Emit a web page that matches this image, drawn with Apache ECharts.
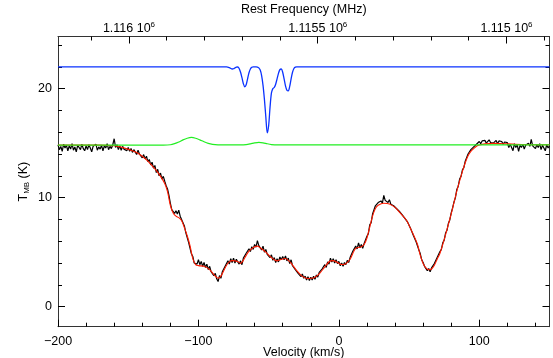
<!DOCTYPE html>
<html>
<head>
<meta charset="utf-8">
<script src="https://cdn.jsdelivr.net/npm/echarts@6/dist/echarts.min.js"></script>
<style>
  html, body { margin: 0; padding: 0; background: #fff; }
  #chart { width: 553px; height: 358px; }
</style>
</head>
<body>
<div id="chart"></div>
<script>
// observed spectrum, channels every 1 km/s starting at -200
const obsStart = -200
const obsStep = 1
const obsT = [
  14.85, 14.4, 14.7, 14.25, 14.9, 14.55, 14.8, 14.3, 14.75, 14.45,
  14.95, 14.35, 14.65, 14.2, 14.8, 14.7, 14.4, 14.9, 14.5, 14.3,
  14.75, 14.4, 14.85, 14.55, 14.2, 14.7, 14.6, 14.9, 14.35, 14.65,
  14.45, 14.8, 14.3, 14.75, 14.55, 14.95, 14.4, 14.7, 14.5, 14.85,
  15.4, 14.6, 14.85, 14.4, 14.75, 14.35, 14.7, 14.45, 14.6, 14.3,
  14.6, 14.25, 14.5, 14.15, 14.4, 14.3, 13.95, 14.35, 14.0, 14.15,
  13.65, 13.95, 13.55, 13.8, 13.3, 13.5, 13.0, 13.25, 12.7, 12.95,
  12.3, 12.6, 12.0, 12.25, 11.7, 11.95, 11.5, 11.1, 10.8, 10.2,
  9.5, 8.9, 9.0, 8.55, 8.8, 8.5, 8.85, 8.3, 8.2, 7.7,
  7.4, 6.8, 6.65, 5.9, 5.75, 4.85, 4.6, 4.0, 4.15, 3.9,
  4.3, 3.85, 4.15, 3.7, 4.05, 3.6, 3.9, 3.4, 3.7, 3.2,
  3.3, 2.85, 3.05, 2.55, 2.3, 2.85, 2.6, 3.2, 3.1, 3.7,
  3.95, 4.2, 3.9, 4.4, 4.05, 4.45, 4.0, 4.35, 4.1, 3.9,
  4.2, 3.85, 4.45, 4.3, 4.9, 4.75, 5.3, 5.05, 5.5, 5.25,
  5.7, 5.45, 6.05, 5.6, 5.75, 5.2, 5.55, 5.0, 5.25, 4.8,
  4.95, 4.5, 4.75, 4.25, 4.5, 4.05, 4.4, 4.1, 4.55, 4.3,
  4.6, 4.3, 4.65, 4.2, 4.45, 3.95, 4.3, 3.75, 3.9, 3.4,
  3.5, 3.05, 3.2, 2.75, 3.0, 2.6, 2.8, 2.45, 2.75, 2.4,
  2.7, 2.45, 2.8, 2.5, 2.9, 2.7, 3.15, 3.0, 3.45, 3.3,
  3.85, 3.6, 4.1, 3.9, 4.45, 4.1, 4.4, 4.0, 4.3, 3.95,
  4.15, 3.75, 4.0, 3.7, 4.05, 3.85, 4.25, 4.05, 4.5, 4.45,
  5.1, 4.95, 5.55, 5.3, 5.85, 5.4, 5.7, 5.35, 5.8, 5.9,
  6.45, 6.7, 7.5, 7.7, 8.5, 8.6, 9.25, 9.1, 9.55, 9.4,
  9.7, 9.5, 10.2, 9.75, 9.85, 9.55, 9.8, 9.4, 9.55, 9.25,
  9.35, 9.0, 9.1, 8.75, 8.85, 8.45, 8.5, 8.1, 8.2, 7.75,
  7.6, 7.2, 7.05, 6.55, 6.45, 5.95, 5.85, 5.2, 4.85, 4.3,
  4.05, 3.7, 3.65, 3.3, 3.5, 3.2, 3.55, 3.5, 3.95, 4.0,
  4.5, 4.6, 5.05, 5.25, 5.85, 6.1, 6.75, 7.0, 7.65, 7.95,
  8.6, 9.05, 9.6, 10.0, 10.75, 11.05, 11.7, 11.95, 12.55, 12.75,
  13.35, 13.5, 14.0, 14.05, 14.4, 14.35, 14.65, 14.6, 14.9, 14.85,
  15.15, 14.95, 15.2, 15.05, 15.25, 15.0, 15.15, 15.3, 15.05, 15.2,
  15.0, 15.15, 15.25, 14.95, 15.2, 15.05, 15.15, 14.9, 15.1, 14.95,
  15.05, 14.6, 14.9, 14.75, 14.3, 14.95, 14.6, 14.85, 14.25, 14.8,
  14.6, 14.9, 14.45, 14.8, 14.65, 15.0, 14.7, 15.35, 14.75, 14.9,
  14.5, 14.85, 14.6, 14.95, 14.4, 14.8, 14.65, 14.3, 14.85, 14.55, 14.75
]

// fitted profile (red)
const fitV = [-200, -170, -160, -156, -152, -148, -144, -140, -136, -132, -128, -124, -122, -120, -118, -116, -114, -112, -110, -108, -106, -104, -102, -100, -96, -92, -88, -86, -84, -82, -80, -78, -76, -72, -70, -68, -66, -64, -60, -58, -56, -52, -48, -44, -42, -38, -36, -34, -30, -26, -22, -18, -14, -10, -6, -4, 0, 2, 4, 8, 10, 12, 16, 18, 20, 22, 24, 26, 28, 32, 36, 40, 44, 48, 52, 56, 58, 60, 62, 64, 66, 68, 70, 72, 76, 80, 84, 88, 90, 92, 94, 96, 98, 100, 104, 110, 120, 130, 150]
const fitT = [14.82, 14.82, 14.76, 14.66, 14.52, 14.35, 14.13, 13.8, 13.35, 12.78, 12.15, 11.3, 10.55, 9.3, 8.6, 8.3, 8.17, 7.9, 7.25, 6.5, 5.6, 4.4, 3.85, 3.76, 3.7, 3.4, 2.8, 2.6, 2.8, 3.3, 3.8, 4.1, 4.22, 4.15, 3.97, 4.25, 4.7, 5.1, 5.5, 5.55, 5.4, 5.0, 4.5, 4.2, 4.3, 4.42, 4.25, 4.0, 3.3, 2.78, 2.58, 2.62, 3.0, 3.65, 4.2, 4.22, 3.98, 3.86, 3.88, 4.35, 4.9, 5.35, 5.5, 5.7, 6.3, 7.3, 8.3, 9.0, 9.3, 9.48, 9.42, 9.1, 8.55, 7.95, 6.9, 5.7, 4.7, 3.95, 3.55, 3.38, 3.45, 3.8, 4.35, 4.9, 6.6, 8.5, 10.6, 12.4, 13.2, 13.85, 14.25, 14.5, 14.72, 14.83, 14.93, 14.98, 14.93, 14.87, 14.85]

// baseline model (green)
const baseV = [-200, -125, -120, -117, -114, -111, -108, -105, -102, -99, -96, -93, -90, -86, -70, -66, -63, -60, -57, -54, -51, -48, -44, 150]
const baseT = [14.82, 14.82, 14.85, 14.95, 15.1, 15.3, 15.45, 15.52, 15.45, 15.3, 15.12, 14.97, 14.88, 14.84, 14.83, 14.86, 14.93, 15.02, 15.07, 15.03, 14.94, 14.87, 14.83, 14.83]

// hyperfine model (blue), offset
const hfsV = [-200, -80, -78, -77, -76, -75, -74, -73, -72, -71, -70, -69, -68, -67, -66, -65, -64, -63, -62, -61, -59, -58, -57, -56, -55, -54, -53, -52, -51, -50, -49, -48, -47, -46, -45, -44, -43, -42, -41, -40, -39, -38, -37, -36, -35, -34, -33, -32, -31, -30, 150]
const hfsT = [22.0, 22.0, 21.93, 21.85, 21.8, 21.82, 21.9, 21.97, 21.98, 21.85, 21.5, 21.0, 20.45, 20.17, 20.35, 20.9, 21.45, 21.8, 21.95, 22.0, 22.0, 21.98, 21.9, 21.7, 21.2, 20.3, 19.0, 17.4, 15.95, 16.6, 18.3, 19.6, 20.0, 20.1, 20.4, 20.9, 21.4, 21.75, 21.8, 21.5, 20.9, 20.25, 19.85, 19.8, 20.2, 20.9, 21.5, 21.85, 21.97, 22.0, 22.0]

// axis ticks
const velMajor = [-200, -100, 0, 100]
const velMinor = [-180, -160, -140, -120, -80, -60, -40, -20, 20, 40, 60, 80, 120, 140]
const freqMajor = [1115000, 1115500, 1116000]
const freqLabels = { 1115000: '1.115', 1115500: '1.1155', 1116000: '1.116' }
const freqMinor = [1114900, 1115100, 1115200, 1115300, 1115400, 1115600, 1115700, 1115800, 1115900, 1116100]
const tMajor = [0, 10, 20]
const tMinor = [2, 4, 6, 8, 12, 14, 16, 18, 22, 24]

const pairs = (xs, ys) => xs.map((x, i) => [x, ys[i]])
const obsData = obsT.map((t, i) => [obsStart + i * obsStep, t])

const FONT = 'Liberation Sans'
const lineCol = '#333'

const chart = echarts.init(document.getElementById('chart'))

const velRange = { min: -200, max: 150 }
const freqRange = { min: 1114886, max: 1116188 }
const tRange = { min: -1.84, max: 24.78 }

// one axis carries the frame line, labels and long ticks; a twin carries the short ticks
const frameAxis = (extra, ticks) => ({
  type: 'value',
  axisLine: { show: true, onZero: false, lineStyle: { color: lineCol, width: 1 } },
  axisTick: { show: true, inside: true, length: 7, customValues: ticks, lineStyle: { color: '#000' } },
  splitLine: { show: false },
  nameMoveOverlap: false,
  ...extra,
})
const minorAxis = (extra, ticks) => ({
  type: 'value',
  axisLine: { show: false, onZero: false },
  axisTick: { show: true, inside: true, length: 4, customValues: ticks, lineStyle: { color: '#000' } },
  axisLabel: { show: false },
  splitLine: { show: false },
  ...extra,
})

chart.setOption({
  animation: false,
  backgroundColor: '#fff',
  textStyle: { fontFamily: FONT },
  grid: { left: 58, right: 3.5, top: 36.5, bottom: 31.3, containLabel: false, outerBoundsMode: 'none' },
  xAxis: [
    frameAxis({
      position: 'bottom', ...velRange,
      axisLabel: {
        customValues: velMajor, color: '#000', fontSize: 12.5, margin: 8,
        formatter: (v) => (v < 0 ? '\u2212' + Math.abs(v) : String(v)),
      },
      name: 'Velocity (km/s)', nameLocation: 'middle', nameGap: 19,
      nameTextStyle: { color: '#000', fontSize: 12.5 },
    }, velMajor),
    minorAxis({ position: 'bottom', ...velRange }, velMinor),
    frameAxis({
      position: 'top', inverse: true, ...freqRange,
      axisLabel: {
        customValues: freqMajor, color: '#000', fontSize: 12.5, margin: 0,
        formatter: (v) => freqLabels[v] + ' 10{s|6}',
        rich: { s: { fontSize: 8, verticalAlign: 'top', padding: [0, 0, 8, 0] } },
      },
      name: 'Rest Frequency (MHz)', nameLocation: 'middle', nameGap: 20,
      nameTextStyle: { color: '#000', fontSize: 12.5 },
    }, freqMajor),
    minorAxis({ position: 'top', inverse: true, ...freqRange }, freqMinor),
  ],
  yAxis: [
    frameAxis({
      position: 'left', ...tRange,
      axisLabel: { customValues: tMajor, color: '#000', fontSize: 12.5, margin: 6 },
      name: 'T{sub|MB} (K)', nameLocation: 'middle', nameGap: 27,
      nameTextStyle: {
        color: '#000', fontSize: 12.5,
        rich: { sub: { fontSize: 8, verticalAlign: 'bottom', padding: [6, 0, 0, 0] } },
      },
    }, tMajor),
    minorAxis({ position: 'left', ...tRange }, tMinor),
    frameAxis({ position: 'right', ...tRange, axisLabel: { show: false } }, tMajor),
    minorAxis({ position: 'right', ...tRange }, tMinor),
  ],
  series: [
    {
      name: 'observed', type: 'line', data: obsData,
      showSymbol: false, lineStyle: { color: '#000', width: 1.2 },
    },
    {
      name: 'fit', type: 'line', data: pairs(fitV, fitT), smooth: 0.3,
      showSymbol: false, lineStyle: { color: '#ff1a00', width: 1.1 },
    },
    {
      name: 'baseline', type: 'line', data: pairs(baseV, baseT), smooth: 0.3,
      showSymbol: false, lineStyle: { color: '#22ee22', width: 1.2 },
    },
    {
      name: 'hfs', type: 'line', data: pairs(hfsV, hfsT), smooth: 0.3,
      showSymbol: false, lineStyle: { color: '#0a32ff', width: 1.3 },
    },
  ],
})
</script>
</body>
</html>
